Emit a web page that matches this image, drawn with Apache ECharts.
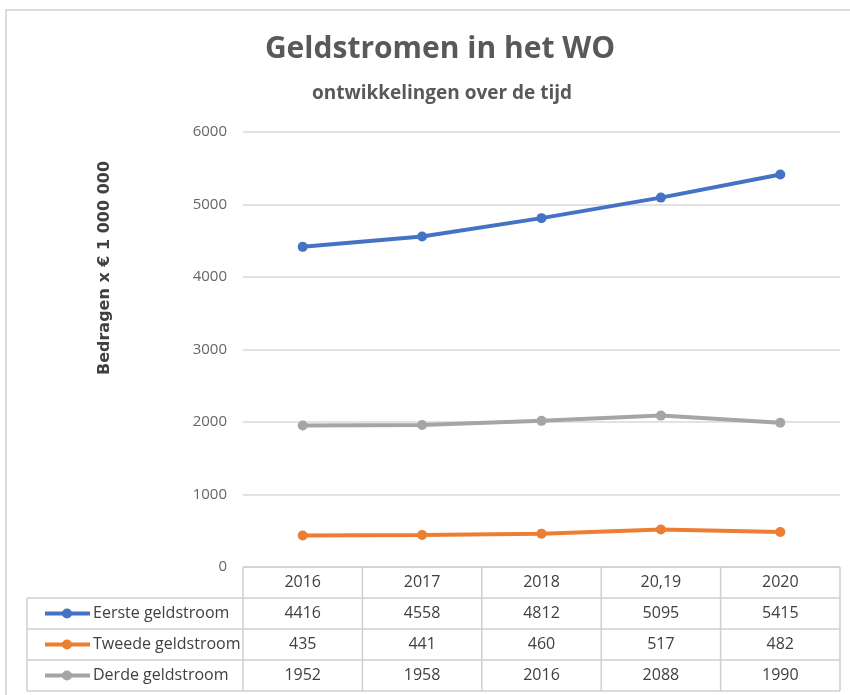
<!DOCTYPE html>
<html>
<head>
<meta charset="utf-8">
<script src="https://cdn.jsdelivr.net/npm/echarts@6/dist/echarts.min.js"></script>
<style>
  html, body { margin: 0; padding: 0; background: #fff; }
  #main { width: 850px; height: 695px; }
</style>
</head>
<body>
<div id="main"></div>
<script>
// data
const years = ["2016", "2017", "2018", "20,19", "2020"];
const eerste = [4416, 4558, 4812, 5095, 5415];
const tweede = [435, 441, 460, 517, 482];
const derde = [1952, 1958, 2016, 2088, 1990];
const seriesNames = ["Eerste geldstroom", "Tweede geldstroom", "Derde geldstroom"];
const seriesValues = [eerste, tweede, derde];
const seriesColors = ["#4472C4", "#ED7D31", "#A5A5A5"];

const font = "'Open Sans', sans-serif";
const titleFont = "'Open Sans', 'Noto Sans', sans-serif";

var myChart = echarts.init(document.getElementById("main"));

const option = {
  backgroundColor: "#fff",
  animation: false,
  title: [
    {
      text: "Geldstromen in het WO",
      left: 435,
      top: 29,
      textAlign: "center",
      textStyle: { fontFamily: titleFont, fontSize: 30, fontWeight: 700, color: "#595959" },
    },
    {
      text: "ontwikkelingen over de tijd",
      left: 437,
      top: 79,
      textAlign: "center",
      textStyle: { fontFamily: titleFont, fontSize: 19, fontWeight: 700, color: "#595959" },
    },
  ],
  grid: { left: 243, right: 10, top: 132, bottom: 128 },
  xAxis: {
    type: "category",
    data: years,
    boundaryGap: true,
    axisLine: { show: false },
    axisTick: { show: false },
    axisLabel: { show: false },
  },
  yAxis: {
    type: "value",
    min: 0,
    max: 6000,
    interval: 1000,
    axisLine: { show: false },
    axisTick: { show: false },
    axisLabel: { color: "#666666", fontSize: 15, fontFamily: font, margin: 16, formatter: (v) => String(v) },
    splitLine: { lineStyle: { color: "#d9d9d9", width: 1.5 } },
  },
  series: seriesNames.map((name, i) => ({
    name,
    type: "line",
    data: seriesValues[i],
    symbol: "circle",
    symbolSize: 10,
    color: seriesColors[i],
    lineStyle: { width: 4, color: seriesColors[i] },
    itemStyle: { color: seriesColors[i] },
  })),
};

myChart.setOption(option);

// data table under the plot, placed from the category axis
const band = myChart.convertToPixel({ xAxisIndex: 0 }, 1) - myChart.convertToPixel({ xAxisIndex: 0 }, 0);
const colLeft = myChart.convertToPixel({ xAxisIndex: 0 }, 0) - band / 2;
const colRight = colLeft + band * years.length;
const yZero = myChart.convertToPixel({ yAxisIndex: 0 }, 0);
const rowH = 31;
const tableLeft = 27;
const lineStyle = { stroke: "#cfcfcf", lineWidth: 1.5 };
const textColor = "#404040";

const g = [];
// outer frame of the figure
g.push({ type: "rect", shape: { x: 6, y: 10, width: 900, height: 720 }, style: { fill: null, stroke: "#d0d0d0", lineWidth: 1.5 }, silent: true });
// y axis name
g.push({
  type: "text", x: 105, y: 268, rotation: Math.PI / 2,
  style: { text: "Bedragen x € 1 000 000", fontFamily: "'DejaVu Sans', sans-serif", fontSize: 16, fontWeight: 700, fill: "#404040", align: "center", verticalAlign: "middle" },
});
// horizontal lines
g.push({ type: "line", shape: { x1: colLeft, y1: yZero, x2: colRight, y2: yZero }, style: lineStyle });
for (let r = 1; r <= 4; r++) {
  g.push({ type: "line", shape: { x1: tableLeft, y1: yZero + r * rowH, x2: colRight, y2: yZero + r * rowH }, style: lineStyle });
}
// vertical lines
for (let c = 0; c <= years.length; c++) {
  const x = colLeft + c * band;
  g.push({ type: "line", shape: { x1: x, y1: yZero, x2: x, y2: yZero + 4 * rowH }, style: lineStyle });
}
g.push({ type: "line", shape: { x1: tableLeft, y1: yZero + rowH, x2: tableLeft, y2: yZero + 4 * rowH }, style: lineStyle });
// header
years.forEach((yr, c) => {
  g.push({ type: "text", x: colLeft + (c + 0.5) * band, y: yZero + rowH / 2,
    style: { text: yr, fontFamily: font, fontSize: 16, fill: textColor, align: "center", verticalAlign: "middle" } });
});
// rows
seriesNames.forEach((name, r) => {
  const yc = yZero + (r + 1.5) * rowH;
  g.push({ type: "line", shape: { x1: 45, y1: yc, x2: 90, y2: yc }, style: { stroke: seriesColors[r], lineWidth: 4 } });
  g.push({ type: "circle", shape: { cx: 67, cy: yc, r: 5 }, style: { fill: seriesColors[r] } });
  g.push({ type: "text", x: 93, y: yc, style: { text: name, fontFamily: font, fontSize: 16, fill: textColor, align: "left", verticalAlign: "middle" } });
  seriesValues[r].forEach((v, c) => {
    g.push({ type: "text", x: colLeft + (c + 0.5) * band, y: yc,
      style: { text: String(v), fontFamily: font, fontSize: 16, fill: textColor, align: "center", verticalAlign: "middle" } });
  });
});

myChart.setOption({ graphic: { elements: g } });
</script>
</body>
</html>
